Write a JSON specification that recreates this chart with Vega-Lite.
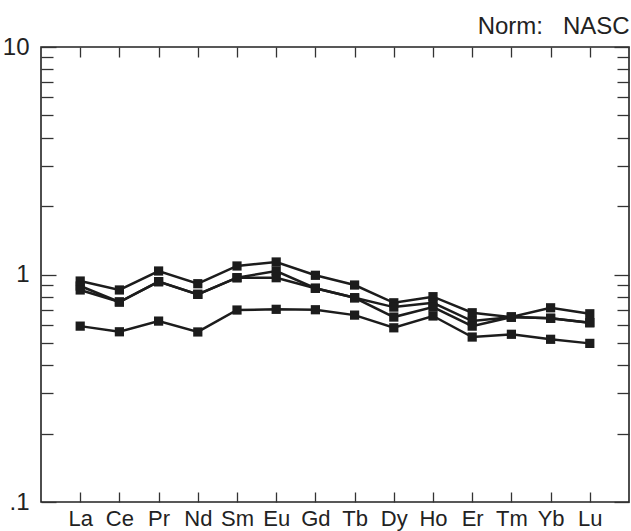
{
  "$schema": "https://vega.github.io/schema/vega-lite/v6.json",
  "width": 588,
  "height": 455,
  "autosize": "none",
  "padding": {"left": 41, "top": 47, "right": 2, "bottom": 29},
  "background": "white",
  "config": {
    "view": {"stroke": "#222222", "strokeWidth": 1.6},
    "font": "Liberation Sans",
    "axis": {"domain": false, "grid": false, "tickColor": "#333333", "tickWidth": 1.3, "labelColor": "#222222", "labelFont": "Liberation Sans", "title": null}
  },
  "title": {"text": "Norm:\u00a0\u00a0\u00a0NASC", "anchor": "end", "fontSize": 24, "fontWeight": "normal", "color": "#222222", "font": "Liberation Sans", "offset": -4},
  "data": {"values": [
    {"s": "A", "e": "La", "v": 0.936}, {"s": "A", "e": "Ce", "v": 0.855}, {"s": "A", "e": "Pr", "v": 1.036}, {"s": "A", "e": "Nd", "v": 0.911}, {"s": "A", "e": "Sm", "v": 1.09}, {"s": "A", "e": "Eu", "v": 1.135}, {"s": "A", "e": "Gd", "v": 0.992}, {"s": "A", "e": "Tb", "v": 0.899}, {"s": "A", "e": "Dy", "v": 0.751}, {"s": "A", "e": "Ho", "v": 0.799}, {"s": "A", "e": "Er", "v": 0.679}, {"s": "A", "e": "Tm", "v": 0.65}, {"s": "A", "e": "Yb", "v": 0.714}, {"s": "A", "e": "Lu", "v": 0.672},
    {"s": "B", "e": "La", "v": 0.89}, {"s": "B", "e": "Ce", "v": 0.757}, {"s": "B", "e": "Pr", "v": 0.93}, {"s": "B", "e": "Nd", "v": 0.818}, {"s": "B", "e": "Sm", "v": 0.968}, {"s": "B", "e": "Eu", "v": 1.036}, {"s": "B", "e": "Gd", "v": 0.87}, {"s": "B", "e": "Tb", "v": 0.79}, {"s": "B", "e": "Dy", "v": 0.719}, {"s": "B", "e": "Ho", "v": 0.751}, {"s": "B", "e": "Er", "v": 0.624}, {"s": "B", "e": "Tm", "v": 0.65}, {"s": "B", "e": "Yb", "v": 0.642}, {"s": "B", "e": "Lu", "v": 0.614},
    {"s": "C", "e": "La", "v": 0.855}, {"s": "C", "e": "Ce", "v": 0.757}, {"s": "C", "e": "Pr", "v": 0.93}, {"s": "C", "e": "Nd", "v": 0.818}, {"s": "C", "e": "Sm", "v": 0.968}, {"s": "C", "e": "Eu", "v": 0.968}, {"s": "C", "e": "Gd", "v": 0.87}, {"s": "C", "e": "Tb", "v": 0.79}, {"s": "C", "e": "Dy", "v": 0.65}, {"s": "C", "e": "Ho", "v": 0.719}, {"s": "C", "e": "Er", "v": 0.593}, {"s": "C", "e": "Tm", "v": 0.65}, {"s": "C", "e": "Yb", "v": 0.642}, {"s": "C", "e": "Lu", "v": 0.614},
    {"s": "D", "e": "La", "v": 0.593}, {"s": "D", "e": "Ce", "v": 0.56}, {"s": "D", "e": "Pr", "v": 0.624}, {"s": "D", "e": "Nd", "v": 0.559}, {"s": "D", "e": "Sm", "v": 0.698}, {"s": "D", "e": "Eu", "v": 0.703}, {"s": "D", "e": "Gd", "v": 0.7}, {"s": "D", "e": "Tb", "v": 0.663}, {"s": "D", "e": "Dy", "v": 0.583}, {"s": "D", "e": "Ho", "v": 0.657}, {"s": "D", "e": "Er", "v": 0.531}, {"s": "D", "e": "Tm", "v": 0.546}, {"s": "D", "e": "Yb", "v": 0.519}, {"s": "D", "e": "Lu", "v": 0.498}
  ]},
  "layer": [
    {
      "mark": {"type": "line", "color": "#1c1c1c", "strokeWidth": 2.5, "point": {"shape": "square", "size": 85, "filled": true, "color": "#1c1c1c", "opacity": 1}},
      "encoding": {
        "x": {"field": "e", "type": "ordinal", "sort": ["La","Ce","Pr","Nd","Sm","Eu","Gd","Tb","Dy","Ho","Er","Tm","Yb","Lu"], "scale": {"type": "point", "padding": 1},
              "axis": {"orient": "bottom", "labelAngle": 0, "labelFontSize": 22, "labelPadding": 16, "tickSize": -10}},
        "y": {"field": "v", "type": "quantitative", "scale": {"type": "log", "domain": [0.1, 10]},
              "axis": {"orient": "left", "values": [0.1,0.2,0.3,0.4,0.5,0.6,0.7,0.8,0.9,1,2,3,4,5,6,7,8,9,10],
                       "labelExpr": "datum.value == 0.1 ? '.1' : datum.value == 1 ? '1' : datum.value == 10 ? '10' : ''",
                       "labelFontSize": 24, "labelPadding": 27, "labelBaseline": "middle",
                       "tickSize": {"condition": {"test": "datum.value == 0.1 || datum.value == 1 || datum.value == 10", "value": -15}, "value": -12}}},
        "detail": {"field": "s"}
      }
    },
    {
      "mark": {"type": "point", "opacity": 0},
      "encoding": {
        "x": {"field": "e", "type": "ordinal", "sort": ["La","Ce","Pr","Nd","Sm","Eu","Gd","Tb","Dy","Ho","Er","Tm","Yb","Lu"],
              "axis": {"orient": "top", "labels": false, "tickSize": -10}},
        "y": {"field": "v", "type": "quantitative",
              "axis": {"orient": "right", "labels": false, "values": [0.1,0.2,0.3,0.4,0.5,0.6,0.7,0.8,0.9,1,2,3,4,5,6,7,8,9,10],
                       "tickSize": {"condition": {"test": "datum.value == 0.1 || datum.value == 1 || datum.value == 10", "value": -15}, "value": -12}}}
      }
    }
  ],
  "resolve": {"axis": {"x": "independent", "y": "independent"}}
}
